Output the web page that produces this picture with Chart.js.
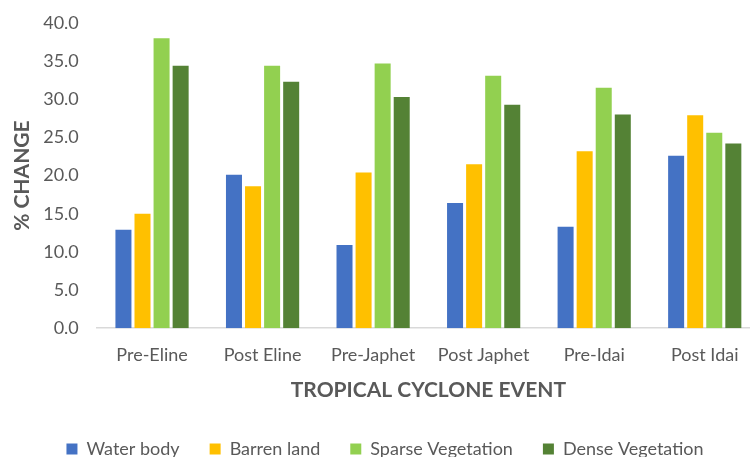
<!DOCTYPE html>
<html>
<head>
<meta charset="utf-8">
<script src="https://cdn.jsdelivr.net/npm/chart.js@4/dist/chart.umd.min.js"></script>
<style>
  html, body { margin: 0; padding: 0; background: #ffffff; overflow: hidden; }
  #wrap { width: 770px; height: 457px; }
</style>
</head>
<body>
<div id="wrap"><canvas id="chart" width="770" height="457"></canvas></div>
<script>
// Cyclone events along the x axis
const events = ['Pre-Eline', 'Post Eline', 'Pre-Japhet', 'Post Japhet', 'Pre-Idai', 'Post Idai'];

// Land cover share (%) for each event
const waterBody = [12.9, 20.1, 10.9, 16.4, 13.3, 22.6];
const barrenLand = [15.0, 18.6, 20.4, 21.5, 23.2, 27.9];
const sparseVegetation = [38.0, 34.4, 34.7, 33.1, 31.5, 25.6];
const denseVegetation = [34.4, 32.3, 30.3, 29.3, 28.0, 24.2];

// Y axis range and tick step
const yMin = 0;
const yMax = 40;
const yStep = 5;

const textGrey = '#595959';
const fontFamily = 'Lato, "Open Sans", sans-serif';

function series(label, data, color) {
  return {
    label: label,
    data: data,
    backgroundColor: color,
    borderColor: color,
    borderWidth: 0,
    barPercentage: 0.84,
    categoryPercentage: 0.69
  };
}

new Chart(document.getElementById('chart'), {
  type: 'bar',
  data: {
    labels: events,
    datasets: [
      series('Water body', waterBody, '#4472C4'),
      series('Barren land', barrenLand, '#FFC000'),
      series('Sparse Vegetation', sparseVegetation, '#92D050'),
      series('Dense Vegetation', denseVegetation, '#548235')
    ]
  },
  options: {
    responsive: false,
    animation: false,
    devicePixelRatio: 1,
    layout: { padding: { left: 10, right: 10, top: 23, bottom: -11 } },
    plugins: {
      tooltip: { enabled: false },
      legend: {
        position: 'bottom',
        labels: {
          color: textGrey,
          font: { family: fontFamily, size: 18 },
          boxWidth: 11,
          boxHeight: 11,
          padding: 30
        }
      }
    },
    scales: {
      x: {
        grid: { display: false, drawTicks: false },
        border: { display: true, color: '#d9d9d9', width: 1.5 },
        ticks: {
          color: textGrey,
          font: { family: fontFamily, size: 18 },
          padding: 16,
          maxRotation: 0
        },
        title: {
          display: true,
          text: 'TROPICAL CYCLONE EVENT',
          color: textGrey,
          font: { family: fontFamily, size: 21, weight: 'bold' },
          // tick padding is counted twice in the axis height, so pull the title back up
          padding: { top: -4, bottom: 7 }
        }
      },
      y: {
        min: yMin,
        max: yMax,
        grid: { display: false, drawTicks: false },
        border: { display: false },
        ticks: {
          stepSize: yStep,
          color: textGrey,
          font: { family: fontFamily, size: 18 },
          padding: 18,
          callback: function (v) { return Number(v).toFixed(1); }
        },
        title: {
          display: true,
          text: '% CHANGE',
          color: textGrey,
          font: { family: fontFamily, size: 21, weight: 'bold' },
          padding: { top: 0, bottom: -10 }
        },
        // let the layout padding alone set the top of the plot
        afterFit: function (scale) { scale.paddingTop = 0; }
      }
    }
  }
});
</script>
</body>
</html>
